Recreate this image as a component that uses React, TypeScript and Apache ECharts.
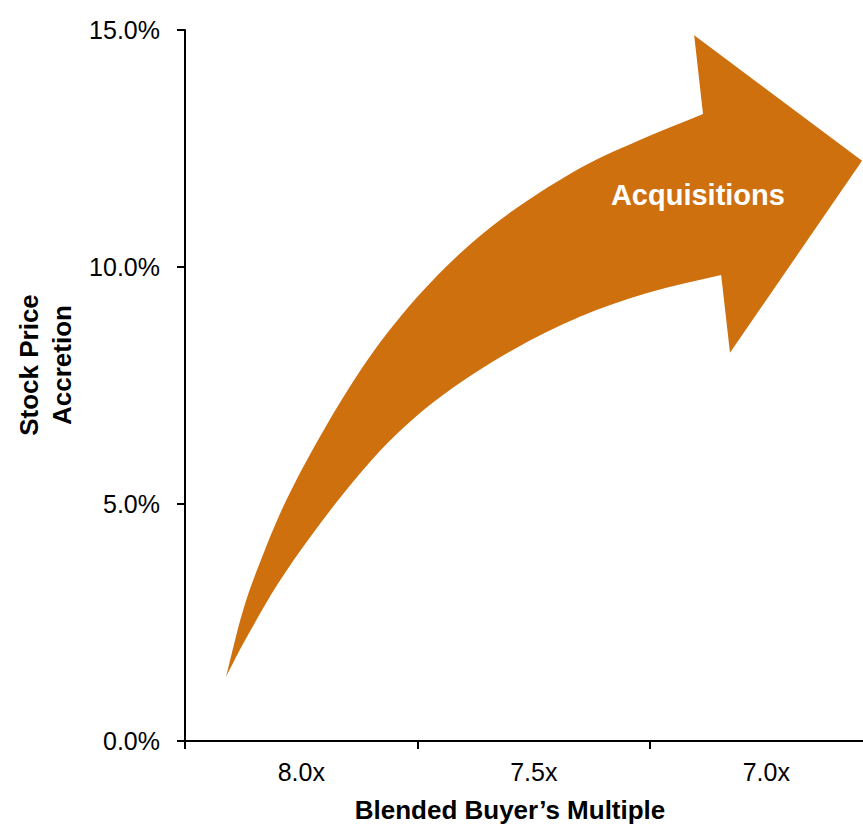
import React, { useEffect, useRef } from "react";
import * as echarts from "echarts";

// Category axis labels (blended buyer's multiple)
const multipleCategories = ["8.0x", "7.5x", "7.0x"];
// Stock price accretion axis (%)
const accretionMin = 0;
const accretionMax = 15;
const accretionStep = 5;
// Numeric extent of the multiple axis (category boundaries)
const multipleMin = 6.75;
const multipleMax = 8.25;

// Arrow outline in data units: [multiple, accretion %]
const outerEdgeMultiple = [8.162, 8.125, 8.089, 8.018, 7.831, 7.631, 7.416, 7.272, 7.136];
const outerEdgeAccretion = [1.35, 2.76, 3.76, 5.36, 8.4, 10.53, 12.0, 12.68, 13.23];
const headMultiple = [7.155, 6.794, 7.078];
const headAccretion = [14.89, 12.24, 8.19];
const innerEdgeMultiple = [7.097, 7.256, 7.401, 7.545, 7.687, 7.76, 7.831, 7.91, 7.981, 8.052, 8.125, 8.162];
const innerEdgeAccretion = [9.83, 9.45, 8.95, 8.25, 7.36, 6.79, 6.12, 5.21, 4.3, 3.29, 2.05, 1.35];
const arrowLabel = "Acquisitions";
const arrowLabelPos = [7.147, 11.52];

const FONT = "Arial, 'Liberation Sans', Helvetica, sans-serif";
const ARROW_COLOR = "#CF700E";

// Centripetal Catmull-Rom spline through the points, as cubic Bezier path commands
function smoothPath(pts: number[][], move: boolean): string {
  let d = move ? `M${pts[0][0]},${pts[0][1]}` : `L${pts[0][0]},${pts[0][1]}`;
  const n = pts.length;
  const get = (i: number): number[] => {
    if (i < 0) return [2 * pts[0][0] - pts[1][0], 2 * pts[0][1] - pts[1][1]];
    if (i >= n) return [2 * pts[n - 1][0] - pts[n - 2][0], 2 * pts[n - 1][1] - pts[n - 2][1]];
    return pts[i];
  };
  const dist = (a: number[], b: number[]) => Math.max(1e-6, Math.sqrt(Math.hypot(b[0] - a[0], b[1] - a[1])));
  for (let i = 0; i < n - 1; i++) {
    const p0 = get(i - 1);
    const p1 = get(i);
    const p2 = get(i + 1);
    const p3 = get(i + 2);
    const t01 = dist(p0, p1);
    const t12 = dist(p1, p2);
    const t23 = dist(p2, p3);
    const m1 = [0, 1].map(
      (k) => ((p1[k] - p0[k]) / t01 - (p2[k] - p0[k]) / (t01 + t12) + (p2[k] - p1[k]) / t12) * t12
    );
    const m2 = [0, 1].map(
      (k) => ((p2[k] - p1[k]) / t12 - (p3[k] - p1[k]) / (t12 + t23) + (p3[k] - p2[k]) / t23) * t12
    );
    const c1 = [p1[0] + m1[0] / 3, p1[1] + m1[1] / 3];
    const c2 = [p2[0] - m2[0] / 3, p2[1] - m2[1] / 3];
    d += `C${c1[0]},${c1[1]},${c2[0]},${c2[1]},${p2[0]},${p2[1]}`;
  }
  return d;
}

export default function App() {
  const ref = useRef<HTMLDivElement>(null);
  useEffect(() => {
    if (!ref.current) return;
    const chart = echarts.init(ref.current, null, { renderer: "svg" });
    const option: any = {
      animation: false,
      backgroundColor: "#ffffff",
      grid: { left: 185, top: 30, right: 0.5, bottom: 90, containLabel: false },
      xAxis: [
        {
          type: "category",
          data: multipleCategories,
          boundaryGap: true,
          axisLine: { show: true, lineStyle: { color: "#000", width: 2 } },
          axisTick: { show: true, length: 8, lineStyle: { color: "#000", width: 2 } },
          axisLabel: { color: "#000", fontSize: 25, fontFamily: FONT, margin: 18 },
          splitLine: { show: false },
        },
        {
          type: "value",
          min: multipleMin,
          max: multipleMax,
          inverse: true,
          show: false,
          position: "bottom",
        },
      ],
      yAxis: {
        type: "value",
        min: accretionMin,
        max: accretionMax,
        interval: accretionStep,
        axisLine: { show: true, lineStyle: { color: "#000", width: 2 } },
        axisTick: { show: true, length: 8, lineStyle: { color: "#000", width: 2 } },
        axisLabel: {
          color: "#000",
          fontSize: 25,
          fontFamily: FONT,
          margin: 25,
          formatter: (v: number) => v.toFixed(1) + "%",
        },
        splitLine: { show: false },
      },
      graphic: [
        {
          type: "text",
          x: 45,
          y: 365,
          rotation: Math.PI / 2,
          style: {
            text: "Stock Price\nAccretion",
            font: `bold 26px ${FONT}`,
            fill: "#000",
            align: "center",
            verticalAlign: "middle",
            textAlign: "center",
            textVerticalAlign: "middle",
            lineHeight: 33,
          },
        },
        {
          type: "text",
          x: 510,
          y: 810,
          style: {
            text: "Blended Buyer\u2019s Multiple",
            font: `bold 26px ${FONT}`,
            fill: "#000",
            align: "center",
            verticalAlign: "middle",
            textAlign: "center",
            textVerticalAlign: "middle",
          },
        },
      ],
      series: [
        {
          type: "custom",
          xAxisIndex: 1,
          yAxisIndex: 0,
          clip: false,
          silent: true,
          data: [[arrowLabelPos[0], arrowLabelPos[1]]],
          renderItem: (params: any, api: any) => {
            const outer = outerEdgeMultiple.map((m, i) => api.coord([m, outerEdgeAccretion[i]]));
            const head = headMultiple.map((m, i) => api.coord([m, headAccretion[i]]));
            const inner = innerEdgeMultiple.map((m, i) => api.coord([m, innerEdgeAccretion[i]]));
            let d = smoothPath(outer, true);
            head.forEach((p: number[]) => {
              d += `L${p[0]},${p[1]}`;
            });
            d += smoothPath(inner, false);
            d += "Z";
            const lp = api.coord([api.value(0), api.value(1)]);
            return {
              type: "group",
              children: [
                {
                  type: "path",
                  shape: { pathData: d },
                  style: { fill: ARROW_COLOR, stroke: "none" },
                },
                {
                  type: "text",
                  x: lp[0],
                  y: lp[1],
                  style: {
                    text: arrowLabel,
                    fill: "#ffffff",
                    font: `bold 29px ${FONT}`,
                    align: "center",
                    verticalAlign: "middle",
                    textAlign: "center",
                    textVerticalAlign: "middle",
                  },
                },
              ],
            };
          },
        },
      ],
    };
    chart.setOption(option);
    return () => chart.dispose();
  }, []);
  return (
    <div
      style={{ position: "fixed", left: 0, top: 0, width: 863, height: 831, overflow: "hidden", background: "#fff" }}
    >
      <div ref={ref} style={{ width: 883, height: 831 }} />
    </div>
  );
}
